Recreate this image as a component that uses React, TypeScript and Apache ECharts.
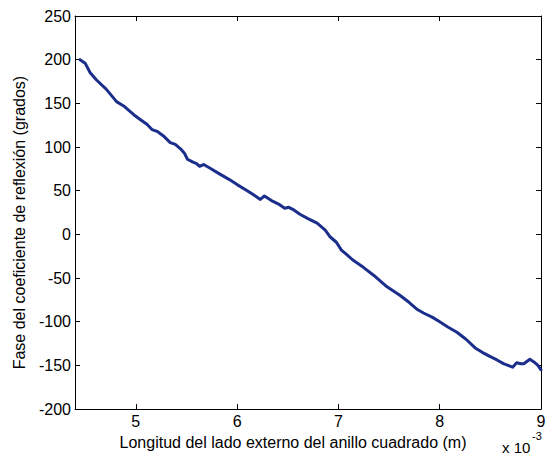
import React, { useEffect, useRef } from "react";
import * as echarts from "echarts";

// Longitud del lado externo (×10^-3 m)
const lengthMm = [4.45, 4.5, 4.55, 4.61, 4.71, 4.81, 4.88, 4.98, 5.05, 5.11, 5.16, 5.21, 5.27, 5.34, 5.39, 5.45, 5.48, 5.51, 5.56, 5.6, 5.63, 5.67, 5.73, 5.83, 5.92, 6.0, 6.1, 6.18, 6.23, 6.27, 6.35, 6.42, 6.47, 6.51, 6.56, 6.62, 6.7, 6.79, 6.87, 6.92, 6.98, 7.03, 7.08, 7.15, 7.25, 7.35, 7.48, 7.61, 7.7, 7.78, 7.84, 7.93, 8.0, 8.08, 8.17, 8.26, 8.35, 8.42, 8.5, 8.57, 8.63, 8.72, 8.76, 8.8, 8.83, 8.89, 8.93, 8.97, 9.0];
// Fase del coeficiente de reflexión (grados)
const phaseDeg = [200, 196, 185, 177, 166, 152, 147, 137, 131, 126, 120, 118, 113, 105, 103, 97, 93, 86, 83, 81, 78, 80, 76, 69, 63, 57, 50, 44, 40, 44, 38, 34, 30, 31, 28, 23, 18, 13, 5, -3, -9, -18, -23, -30, -38, -47, -60, -70, -78, -86, -90, -95, -100, -106, -112, -120, -130, -135, -140, -144, -148, -152, -147, -148, -148, -143, -146, -150, -155];

const xTicks = [5, 6, 7, 8, 9];
const xMin = 4.4;
const xMax = 9;
const yMin = -200;
const yMax = 250;
const yStep = 50;

const FONT = "'Liberation Sans', Arial, sans-serif";

export default function App() {
  const ref = useRef<HTMLDivElement>(null);
  useEffect(() => {
    if (!ref.current) return;
    const chart = echarts.init(ref.current, null, { renderer: "svg" });
    const axisLine = { show: true, onZero: false, lineStyle: { color: "#000", width: 1 } };
    const tick = { show: true, inside: true, length: 5, lineStyle: { color: "#000", width: 1 } };
    chart.setOption({
      animation: false,
      backgroundColor: "#fff",
      grid: { left: 75, right: 8, top: 16, bottom: 44, containLabel: false },
      xAxis: [
        {
          type: "value",
          position: "bottom",
          min: xMin,
          max: xMax,
          axisLine,
          axisTick: { ...tick, customValues: xTicks },
          axisLabel: {
            customValues: xTicks,
            color: "#000",
            fontFamily: FONT,
            fontSize: 16,
            margin: 4,
          },
          splitLine: { show: false },
          name: "Longitud del lado externo del anillo cuadrado (m)",
          nameLocation: "middle",
          nameGap: 18,
          nameTextStyle: { color: "#000", fontFamily: FONT, fontSize: 16, padding: [0, 30, 0, 0] },
        },
        {
          type: "value",
          position: "top",
          min: xMin,
          max: xMax,
          axisLine,
          axisTick: { ...tick, customValues: xTicks },
          axisLabel: { show: false },
          splitLine: { show: false },
        },
      ],
      yAxis: [
        {
          type: "value",
          position: "left",
          min: yMin,
          max: yMax,
          interval: yStep,
          axisLine,
          axisTick: tick,
          axisLabel: { color: "#000", fontFamily: FONT, fontSize: 16, margin: 4 },
          splitLine: { show: false },
          name: "Fase del coeficiente de reflexión (grados)",
          nameLocation: "middle",
          nameRotate: 90,
          nameGap: 48,
          nameTextStyle: { color: "#000", fontFamily: FONT, fontSize: 16, padding: [0, 20, 0, 0] },
        },
        {
          type: "value",
          position: "right",
          min: yMin,
          max: yMax,
          interval: yStep,
          axisLine,
          axisTick: tick,
          axisLabel: { show: false },
          splitLine: { show: false },
        },
      ],
      graphic: [
        {
          type: "text",
          x: 502,
          y: 455,
          style: {
            text: "x 10",
            fontFamily: FONT,
            fontSize: 15,
            fill: "#000",
            align: "left",
            verticalAlign: "bottom",
          },
        },
        {
          type: "text",
          x: 532,
          y: 430,
          style: {
            text: "-3",
            fontFamily: FONT,
            fontSize: 11,
            fill: "#000",
            align: "left",
            verticalAlign: "top",
          },
        },
      ],
      series: [
        {
          type: "line",
          data: lengthMm.map((x, i) => [x, phaseDeg[i]]),
          showSymbol: false,
          lineStyle: { color: "#1c2e8c", width: 3, cap: "round", join: "round" },
          itemStyle: { color: "#1c2e8c" },
        },
      ],
    });
    return () => chart.dispose();
  }, []);
  return (
    <div
      ref={ref}
      style={{ position: "fixed", left: 0, top: 0, width: 549, height: 455 }}
    />
  );
}
